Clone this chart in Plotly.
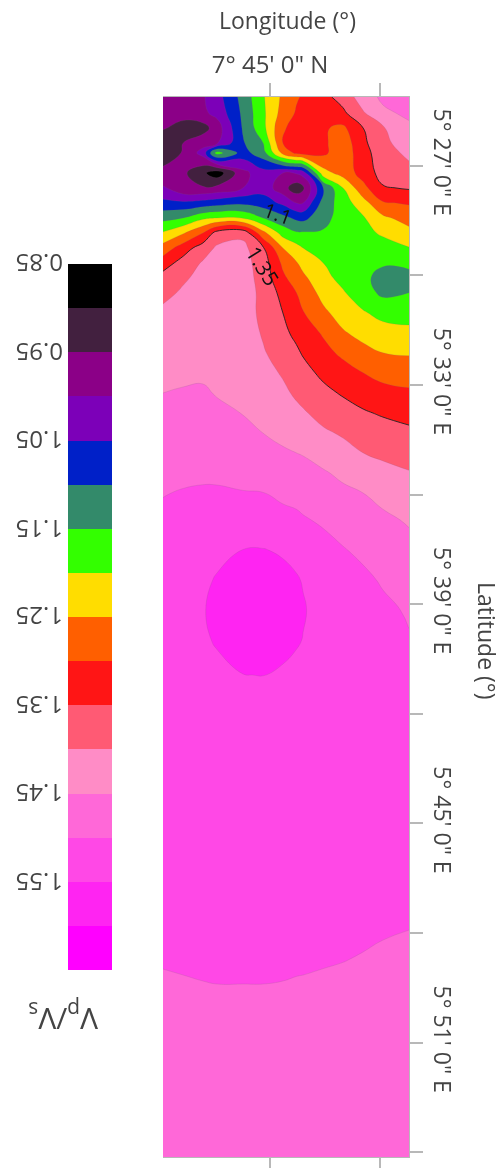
import plotly.graph_objects as go

W, H = 502, 1168
def fx(px):
    return px / W
def fy(py):
    return 1 - py / H

lon_min = [42.08, 42.63, 43.17, 43.55, 44.26, 44.81, 45.35, 45.72, 45.90, 46.45, 46.99, 47.54, 48.08, 48.79]
lat_min = [25.12, 25.56, 25.97, 26.38, 26.65, 27.20, 27.61, 28.02, 28.43, 28.84, 29.25, 29.66, 30.07, 30.48,
           31.03, 31.58, 32.12, 32.67, 33.22, 33.77, 34.32, 34.86, 35.41, 35.96, 36.70, 37.52, 38.34, 39.16,
           39.98, 40.94, 41.90, 43.26, 44.91, 46.55, 47.92, 48.74, 49.56, 50.93, 52.57, 54.13]
vp_vs = [
 [.97,.97,.995,1.03,1.118,1.195,1.26,1.295,1.305,1.335,1.37,1.425,1.46,1.48],
 [.96,.97,.99,1.015,1.11,1.19,1.27,1.305,1.31,1.32,1.34,1.395,1.44,1.46],
 [.955,.93,.93,.975,1.105,1.185,1.295,1.315,1.32,1.305,1.29,1.35,1.395,1.44],
 [.91,.95,.98,.995,1.095,1.15,1.30,1.325,1.33,1.31,1.27,1.34,1.385,1.43],
 [.91,.955,1.02,1.17,1.08,1.13,1.265,1.31,1.32,1.31,1.27,1.33,1.38,1.41],
 [.97,.96,.91,.87,.985,1.03,1.0,1.005,1.02,1.23,1.27,1.32,1.37,1.385],
 [1.005,.96,.955,.965,1.0,1.03,.97,.92,.94,1.10,1.20,1.285,1.345,1.355],
 [1.065,1.06,1.07,1.08,1.09,1.075,1.04,1.0,1.0,1.12,1.175,1.23,1.295,1.305],
 [1.135,1.15,1.19,1.20,1.195,1.15,1.115,1.09,1.085,1.135,1.17,1.195,1.24,1.27],
 [1.205,1.245,1.30,1.37,1.385,1.265,1.18,1.155,1.155,1.155,1.17,1.18,1.21,1.235],
 [1.27,1.325,1.375,1.407,1.415,1.355,1.25,1.218,1.20,1.17,1.16,1.165,1.17,1.198],
 [1.325,1.37,1.405,1.412,1.42,1.375,1.29,1.253,1.235,1.20,1.17,1.16,1.155,1.165],
 [1.37,1.395,1.41,1.416,1.424,1.38,1.31,1.275,1.26,1.215,1.185,1.16,1.135,1.13],
 [1.39,1.405,1.417,1.42,1.428,1.385,1.335,1.30,1.28,1.235,1.205,1.17,1.14,1.15],
 [1.408,1.414,1.424,1.423,1.423,1.388,1.35,1.315,1.303,1.26,1.23,1.205,1.185,1.185],
 [1.418,1.425,1.43,1.429,1.428,1.395,1.36,1.34,1.325,1.295,1.255,1.235,1.22,1.21],
 [1.428,1.434,1.437,1.436,1.433,1.405,1.375,1.357,1.346,1.315,1.29,1.265,1.25,1.245],
 [1.439,1.443,1.445,1.442,1.44,1.417,1.395,1.375,1.365,1.34,1.32,1.30,1.285,1.28],
 [1.45,1.453,1.454,1.448,1.445,1.428,1.41,1.392,1.385,1.362,1.345,1.33,1.315,1.307],
 [1.46,1.462,1.463,1.457,1.449,1.44,1.425,1.412,1.405,1.385,1.37,1.355,1.345,1.335],
 [1.468,1.472,1.473,1.47,1.462,1.45,1.44,1.43,1.425,1.407,1.395,1.38,1.37,1.36],
 [1.477,1.482,1.483,1.482,1.475,1.46,1.455,1.45,1.447,1.43,1.415,1.40,1.39,1.38],
 [1.487,1.49,1.493,1.494,1.487,1.476,1.475,1.47,1.467,1.455,1.44,1.425,1.415,1.403],
 [1.498,1.503,1.505,1.504,1.502,1.501,1.49,1.485,1.48,1.475,1.46,1.45,1.435,1.42],
 [1.51,1.515,1.518,1.52,1.525,1.525,1.515,1.51,1.505,1.493,1.48,1.468,1.46,1.445],
 [1.52,1.525,1.53,1.54,1.5505,1.5515,1.546,1.54,1.535,1.518,1.503,1.49,1.478,1.465],
 [1.525,1.53,1.543,1.553,1.564,1.565,1.56,1.553,1.548,1.531,1.52,1.51,1.495,1.483],
 [1.53,1.535,1.548,1.558,1.569,1.57,1.565,1.558,1.553,1.536,1.527,1.52,1.51,1.495],
 [1.53,1.535,1.544,1.554,1.565,1.566,1.561,1.554,1.549,1.532,1.527,1.522,1.515,1.503],
 [1.53,1.53,1.529,1.539,1.5495,1.5505,1.545,1.539,1.534,1.525,1.525,1.522,1.515,1.51],
 [1.53,1.53,1.53,1.532,1.535,1.535,1.533,1.532,1.53,1.525,1.525,1.52,1.515,1.51],
 [1.53,1.53,1.53,1.53,1.53,1.53,1.53,1.527,1.525,1.525,1.52,1.515,1.51,1.51],
 [1.525,1.53,1.53,1.53,1.53,1.53,1.525,1.522,1.52,1.52,1.515,1.51,1.51,1.505],
 [1.52,1.52,1.52,1.52,1.52,1.52,1.52,1.518,1.517,1.515,1.515,1.51,1.505,1.505],
 [1.51,1.515,1.515,1.515,1.515,1.515,1.515,1.515,1.515,1.512,1.51,1.508,1.505,1.50],
 [1.503,1.505,1.507,1.508,1.508,1.508,1.507,1.506,1.506,1.504,1.501,1.497,1.49,1.485],
 [1.493,1.495,1.497,1.498,1.498,1.498,1.497,1.495,1.494,1.49,1.488,1.485,1.48,1.475],
 [1.48,1.48,1.485,1.486,1.486,1.485,1.485,1.484,1.483,1.48,1.478,1.475,1.475,1.47],
 [1.47,1.47,1.47,1.47,1.47,1.47,1.47,1.47,1.47,1.47,1.47,1.465,1.465,1.46],
 [1.46,1.46,1.46,1.46,1.46,1.46,1.46,1.46,1.46,1.46,1.46,1.46,1.46,1.455],
]
band_lower = [.85, .90, .95, 1.00, 1.05, 1.10, 1.15, 1.20, 1.25, 1.30, 1.35, 1.40, 1.45, 1.50, 1.55, 1.60]
band_colors = ["#000000", "#42203F", "#8B0087", "#7C00B8", "#0020C8", "#338A6A", "#33FF00", "#FFDD00",
               "#FF5F00", "#FF1515", "#FF5A74", "#FF8CC6", "#FF68D8", "#FF48E6", "#FF24F2", "#FF00FF"]
band_mid = [.875, .925, .975, 1.025, 1.075, 1.125, 1.175, 1.225, 1.275, 1.325, 1.375, 1.425, 1.475, 1.525, 1.575, 1.625]
cbar_ticks = [.85, .95, 1.05, 1.15, 1.25, 1.35, 1.45, 1.55]
cbar_labels = ["0.85", "0.95", "1.05", "1.15", "1.25", "1.35", "1.45", "1.55"]
lat_ticks = [27, 33, 39, 45, 51]
lat_labels = ["5° 27' 0\" E", "5° 33' 0\" E", "5° 39' 0\" E", "5° 45' 0\" E", "5° 51' 0\" E"]
lat_minor_ticks = [30, 36, 42, 48, 54]
lon_ticks = [45]
lon_labels = ["7° 45' 0\" N"]
lon_minor_ticks = [48]

n = len(band_colors)
scale = []
for i, c in enumerate(band_colors):
    scale += [[i / n, c], [(i + 1) / n, c]]

FONT = "Open Sans"
INK = "#444444"
fig = go.Figure()
# Plot background is the top band seen on the map; each trace paints everything below its level.
fig.update_layout(plot_bgcolor=band_colors[14])
for i in range(14, 0, -1):
    level = band_lower[i]
    is_marked = abs(level - 1.35) < 1e-9
    fig.add_trace(go.Contour(
        x=lon_min, y=lat_min, z=vp_vs, showscale=False, fillcolor=band_colors[i - 1],
        contours=dict(type="constraint", operation=">=", value=level),
        line=dict(width=0.9 if is_marked else 0.5,
                  color="#222222" if is_marked else "rgba(120,90,120,0.35)", smoothing=1.3),
        hoverinfo="skip"))
fig.add_trace(go.Heatmap(
    x=[0], y=band_mid, z=[[v] for v in band_mid], colorscale=scale, zmin=.85, zmax=1.65,
    showscale=False, xaxis="x2", yaxis="y2", hoverinfo="skip"))

axis_line = "#b8b8b8"
def note(text, x, y, size, angle=0, color=INK, yref="paper"):
    return dict(text=text, xref="paper", yref=yref, x=x, y=y, xanchor="center", yanchor="middle",
                showarrow=False, textangle=angle, font=dict(size=size, family=FONT, color=color))
annotations = [
    note("Longitude (°)", fx(287), fy(20), 23),
    note("Latitude (°)", fx(487), fy(640), 23, 90),
    note("V<sub>p</sub>/V<sub>s</sub>", fx(63), fy(1018), 30, 180),
    note("1.1", fx(278), fy(213), 20, 20, "#111111"),
    note("1.35", fx(263), fy(266), 21, 58, "#111111"),
]
for value, label in zip(cbar_ticks, cbar_labels):
    annotations.append(note(label, fx(40), value, 24, 180, INK, "y2"))

fig.update_layout(
    width=W, height=H, margin=dict(l=0, r=0, t=0, b=0, autoexpand=False), paper_bgcolor="white",
    showlegend=False, font=dict(family=FONT, color=INK, size=16),
    xaxis=dict(domain=[fx(163), fx(409)], range=[42.08, 48.79], side="top", tickmode="array",
               tickvals=lon_ticks, ticktext=lon_labels, ticks="outside", ticklen=13, tickcolor=axis_line,
               tickwidth=1.5, showgrid=False, zeroline=False, mirror="ticks", showline=True, linecolor=axis_line,
               minor=dict(tickmode="array", tickvals=lon_minor_ticks, ticks="outside", ticklen=13,
                          tickcolor=axis_line, tickwidth=1.5, showgrid=False),
               ticklabelstandoff=0, tickfont=dict(size=24, family=FONT, color=INK), anchor="y"),
    yaxis=dict(domain=[fy(1157), fy(97)], range=[54.13, 25.12], side="right", tickmode="array",
               tickvals=lat_ticks, ticktext=lat_labels, ticks="outside", ticklen=13, tickcolor=axis_line,
               tickwidth=1.5, tickangle=90, showgrid=False, zeroline=False, showline=True, linecolor=axis_line,
               minor=dict(tickmode="array", tickvals=lat_minor_ticks, ticks="outside", ticklen=13,
                          tickcolor=axis_line, tickwidth=1.5, showgrid=False),
               ticklabelstandoff=2, tickfont=dict(size=23, family=FONT, color=INK), anchor="x"),
    xaxis2=dict(domain=[fx(68), fx(112)], range=[-.5, .5], visible=False, anchor="y2"),
    yaxis2=dict(domain=[fy(970), fy(264)], range=[1.65, .85], visible=False, anchor="x2"),
    annotations=annotations,
)
fig.write_html("out.html", config={"displayModeBar": False},
               post_script="document.body.style.margin='0';document.querySelector('.plotly-graph-div').style.filter='blur(0.6px)';")
